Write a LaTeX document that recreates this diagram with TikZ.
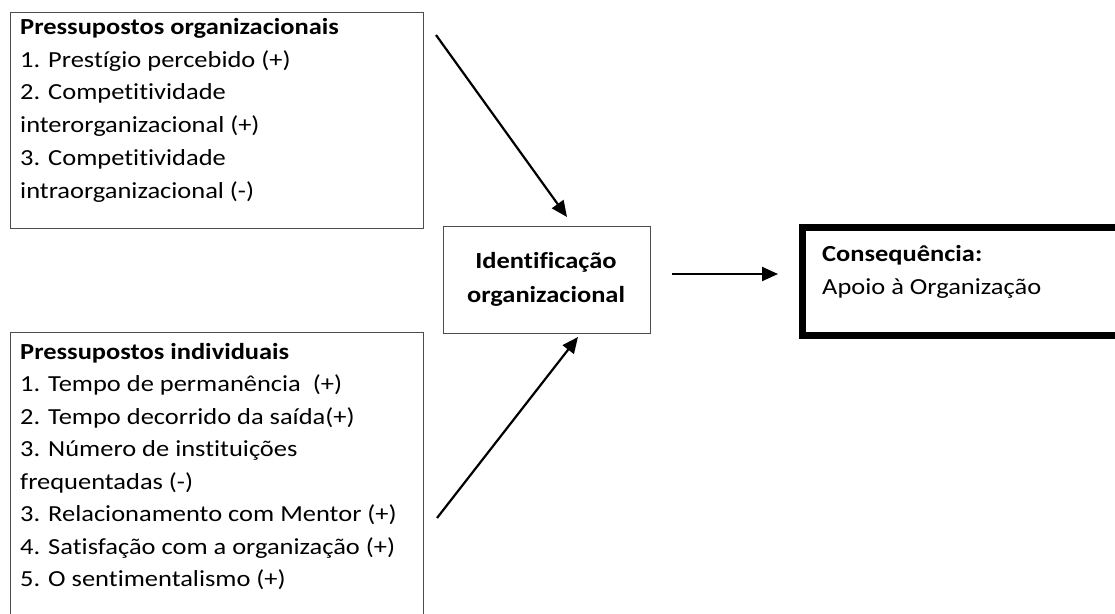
\documentclass[tikz,border=0pt]{standalone}
\usepackage{fontspec}
\setmainfont{Carlito}[FakeStretch=1.15,Ligatures=NoCommon]
\usetikzlibrary{arrows.meta}
\begin{document}
\begin{tikzpicture}[x=1pt,y=-1pt,
  thinbox/.style={draw=black!70, line width=1.3pt, inner sep=0pt, anchor=north west},
  txt/.style={anchor=north west, inner sep=0pt, align=left, font=\fontsize{23}{32.5}\selectfont},
  arr/.style={line width=2.2pt, -{Triangle[length=16pt,width=14pt]}}]
\useasboundingbox (0,0) rectangle (1115,613);
\clip (0,0) rectangle (1115,613);
% boxes
\node[thinbox, minimum width=413pt, minimum height=216pt] (orgbox) at (10,12) {};
\node[thinbox, minimum width=413pt, minimum height=300pt] (indbox) at (10,332) {};
\node[thinbox, minimum width=207pt, minimum height=107pt] (idbox) at (443,226) {};
\node[draw=black, line width=7pt, inner sep=0pt, anchor=north west, minimum width=340pt, minimum height=108pt] (conbox) at (799,224) {};
% texts
\node[txt, font=\fontsize{23}{32.8}\selectfont] (orgtxt) at (20,14) {\rule{0pt}{20pt}\textbf{Pressupostos organizacionais}\\
1. Prestígio percebido (+)\\
2. Competitividade\\
interorganizacional (+)\\
3. Competitividade\\
intraorganizacional (-)};
\node[txt] (indtxt) at (20,339) {\rule{0pt}{20pt}\textbf{Pressupostos individuais}\\
1. Tempo de permanência~~(+)\\
2. Tempo decorrido da saída(+)\\
3. Número de instituições\\
frequentadas (-)\\
3. Relacionamento com Mentor (+)\\
4. Satisfação com a organização (+)\\
5. O sentimentalismo (+)};
\node[anchor=north, inner sep=0pt, align=center, font=\fontsize{23}{34}\selectfont\bfseries] (idtxt) at (546,248) {\rule{0pt}{20pt}Identificação\\organizacional};
\node[anchor=north west, inner sep=0pt, align=left, font=\fontsize{23}{33}\selectfont] (contxt) at (822,241) {\rule{0pt}{20pt}\textbf{Consequência:}\\Apoio à Organização};
% connectors
\coordinate (a1s) at (436,35);
\coordinate (a1e) at (567,217);
\coordinate (a2s) at (437,518);
\coordinate (a2e) at (578,337);
\coordinate (a3s) at (672,274);
\coordinate (a3e) at (778,274);
\draw[arr] (a1s) -- (a1e);
\draw[arr] (a2s) -- (a2e);
\draw[arr] (a3s) -- (a3e);
\end{tikzpicture}
\end{document}
